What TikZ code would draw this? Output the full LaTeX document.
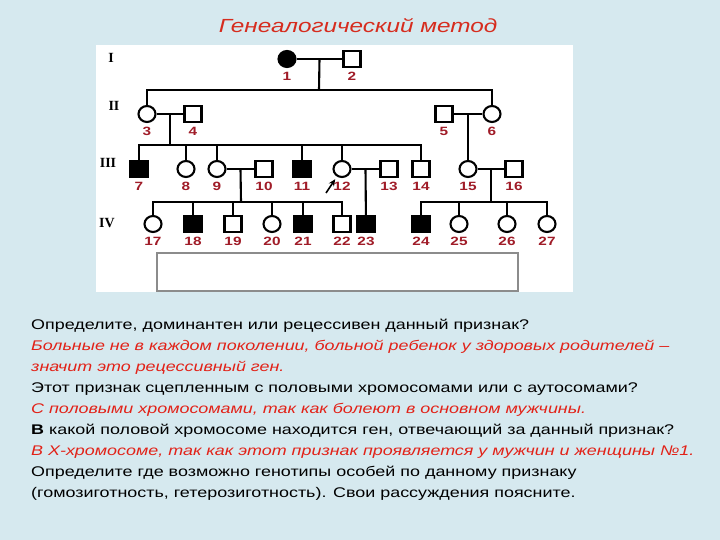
\documentclass[tikz,border=0pt]{standalone}
\usepackage{fontspec}
\setmainfont{Liberation Sans}[FakeStretch=1.28]
\newfontfamily\romanfont{Liberation Serif}
\usepackage{xcolor}
\usetikzlibrary{arrows.meta,shapes.geometric,calc}
\definecolor{slideblue}{RGB}{214, 233, 239}
\definecolor{titlered}{RGB}{214, 44, 30}
\definecolor{ansred}{RGB}{226, 34, 24}
\definecolor{numred}{RGB}{160, 28, 40}
\definecolor{boxgrey}{RGB}{140, 140, 140}
\tikzset{
  male/.style={
    rectangle,
    draw,
    line width=2.1pt,
    fill=white,
    minimum width=17pt,
    minimum height=16pt,
    inner sep=0pt
  },
  female/.style={
    ellipse,
    draw,
    line width=2.1pt,
    fill=white,
    minimum width=17pt,
    minimum height=16pt,
    inner sep=0pt
  },
  sick/.style={fill=black},
  famline/.style={line width=2.1pt},
  numlabel/.style={
    text=numred,
    font=\fontsize{12}{12}\selectfont\bfseries,
    inner sep=0pt
  },
  genlabel/.style={font=\romanfont\fontsize{14}{14}\selectfont\bfseries},
  qline/.style={
    anchor=base west,
    inner sep=0pt,
    font=\fontsize{14}{17}\selectfont
  },
  aline/.style={
    qline,
    text=ansred,
    font=\fontsize{14}{17}\selectfont\itshape
  },
  proband/.style={
    -{Stealth[length=7pt,width=6pt]},
    line width=1.6pt,
    shorten >=3pt
  },
  every label/.style={numlabel},
  label distance=4pt
}
\begin{document}
\begin{tikzpicture}[x=1pt,y=-1pt]
  \fill[slideblue] (0,0) rectangle (720,540);
  \fill[white] (96,45) rectangle (573,292);
  \draw[boxgrey, line width=1.2pt] (157,253) rectangle (518,291);

  \node[anchor=base, text=titlered, font=\fontsize{19}{19}\selectfont\itshape] (title) at (358,33) {Генеалогический метод};

  \node[genlabel] (g1) at (111,58) {I};
  \node[genlabel] (g2) at (114,106) {II};
  \node[genlabel] (g3) at (108,163) {III};
  \node[genlabel] (g4) at (107,223) {IV};

  \node[female, sick, label=below:1] (p1) at (287,59) {};
  \node[male, label=below:2] (p2) at (352,59) {};

  \node[female, label=below:3] (p3) at (147,114) {};
  \node[male, label=below:4] (p4) at (193,114) {};
  \node[male, label=below:5] (p5) at (444,114) {};
  \node[female, label=below:6] (p6) at (492,114) {};

  \node[male, sick, label=below:7] (p7) at (139,169) {};
  \node[female, label=below:8] (p8) at (186,169) {};
  \node[female, label=below:9] (p9) at (217,169) {};
  \node[male, label=below:10] (p10) at (264,169) {};
  \node[male, sick, label=below:11] (p11) at (302,169) {};
  \node[female, label=below:12] (p12) at (342,169) {};
  \node[male, label=below:13] (p13) at (389,169) {};
  \node[male, label=below:14] (p14) at (421,169) {};
  \node[female, label=below:15] (p15) at (468,169) {};
  \node[male, label=below:16] (p16) at (514,169) {};

  \node[female, label=below:17] (p17) at (153,224) {};
  \node[male, sick, label=below:18] (p18) at (193,224) {};
  \node[male, label=below:19] (p19) at (233,224) {};
  \node[female, label=below:20] (p20) at (272,224) {};
  \node[male, sick, label=below:21] (p21) at (303,224) {};
  \node[male, label=below:22] (p22) at (342,224) {};
  \node[male, sick, label=below:23] (p23) at (366,224) {};
  \node[male, sick, label=below:24] (p24) at (421,224) {};
  \node[female, label=below:25] (p25) at (459,224) {};
  \node[female, label=below:26] (p26) at (507,224) {};
  \node[female, label=below:27] (p27) at (547,224) {};

  \coordinate (m1) at ($(p1)!0.5!(p2)$);
  \coordinate (s1) at (319,90);
  \coordinate (m2) at ($(p3)!0.5!(p4)$);
  \coordinate (s2) at (170,145);
  \coordinate (m3) at ($(p5)!0.5!(p6)$);
  \coordinate (m4) at ($(p9)!0.5!(p10)$);
  \coordinate (s3) at (241,202);
  \coordinate (m5) at ($(p12)!0.5!(p13)$);
  \coordinate (m6) at ($(p15)!0.5!(p16)$);
  \coordinate (s4) at (491,202);
  \coordinate (a12) at (326,193);

  \draw[famline] (p1) -- (p2);
  \draw[famline] (m1) -- (s1);
  \draw[famline] (p3) |- (s1) -| (p6);

  \draw[famline] (p3) -- (p4);
  \draw[famline] (m2) -- (s2);
  \draw[famline] (p7) |- (s2) -| (p14);
  \foreach \k in {8,9,11,12}
    \draw[famline] (p\k) -- (p\k |- s2);

  \draw[famline] (p5) -- (p6);
  \draw[famline] (m3) -- (p15);

  \draw[famline] (p9) -- (p10);
  \draw[famline] (m4) -- (s3);
  \draw[famline] (p17) |- (s3) -| (p22);
  \foreach \k in {18,19,20,21}
    \draw[famline] (p\k) -- (p\k |- s3);

  \draw[famline] (p12) -- (p13);
  \draw[famline] (m5) -- (p23);

  \draw[famline] (p15) -- (p16);
  \draw[famline] (m6) -- (s4);
  \draw[famline] (p24) |- (s4) -| (p27);
  \foreach \k in {25,26}
    \draw[famline] (p\k) -- (p\k |- s4);

  \draw[proband] (a12) -- (p12);

  \node[qline] (q1) at (31,329) {Определите, доминантен или рецессивен данный признак?};
  \node[aline] (q2) at (31,350) {Больные не в каждом поколении, больной ребенок у здоровых родителей –};
  \node[aline] (q3) at (31,371) {значит это рецессивный ген.};
  \node[qline] (q4) at (31,392) {Этот признак сцепленным с половыми хромосомами или с аутосомами?};
  \node[aline] (q5) at (31,413) {С половыми хромосомами, так как болеют в основном мужчины.};
  \node[qline] (q6) at (31,434) {\textbf{В} какой половой хромосоме находится ген, отвечающий за данный признак?};
  \node[aline] (q7) at (31,455) {В Х-хромосоме, так как этот признак проявляется у мужчин и женщины №1.};
  \node[qline] (q8) at (31,476.5) {Определите где возможно генотипы особей по данному признаку};
  \node[qline] (q9) at (31,497.5) {(гомозиготность, гетерозиготность). Свои рассуждения поясните.};
\end{tikzpicture}
\end{document}
